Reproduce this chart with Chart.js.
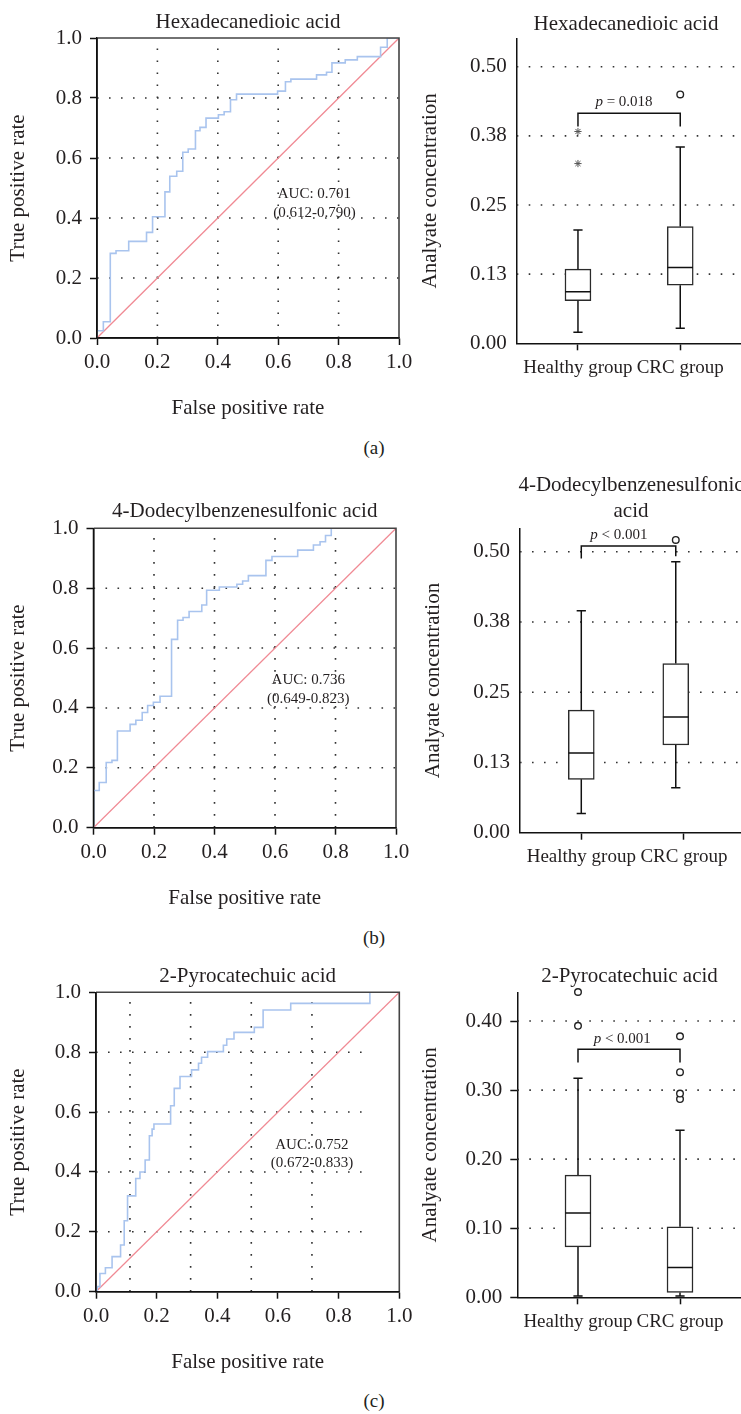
<!DOCTYPE html>
<html><head><meta charset="utf-8">
<script src="https://cdn.jsdelivr.net/npm/chart.js@4.4.0/dist/chart.umd.min.js"></script>
<style>
html,body{margin:0;padding:0;background:#fff;overflow:hidden;}
#wrap{position:relative;width:741px;height:1414px;overflow:hidden;background:#fff;}
canvas{position:absolute;}
.lbl{position:absolute;font-family:"Liberation Serif",serif;font-size:19px;color:#231f20;transform:translate(-50%,-50%);white-space:nowrap;}
</style></head><body><div id="wrap">
<div class="lbl" style="left:374px;top:448px">(a)</div>
<div class="lbl" style="left:374px;top:938px">(b)</div>
<div class="lbl" style="left:374px;top:1401px">(c)</div>
</div>
<script>
// ---------------- DATA ----------------
const rocTicks = [0, 0.2, 0.4, 0.6, 0.8, 1.0];
const rocGrid = [0.2, 0.4, 0.6, 0.8];
const rocGridCx = [0.112, 0.312, 0.512, 0.712];
const groups = ['Healthy group', 'CRC group'];
const concTicksAB = [0, 0.125, 0.25, 0.375, 0.5];
const concTicksC = [0, 0.1, 0.2, 0.3, 0.4];

const titleA = 'Hexadecanedioic acid';
const titleB = '4-Dodecylbenzenesulfonic acid';
const titleBBox = ['4-Dodecylbenzenesulfonic', 'acid'];
const titleC = '2-Pyrocatechuic acid';

// ROC (a)
const rocA_fpr = [0, 0, 0.021, 0.044, 0.063, 0.105, 0.164, 0.184, 0.225, 0.241, 0.264, 0.284, 0.302, 0.326, 0.341, 0.361, 0.402, 0.421, 0.442, 0.462, 0.598, 0.624, 0.642, 0.727, 0.760, 0.778, 0.822, 0.862, 0.939, 0.961, 1.0];
const rocA_tpr = [0, 0.024, 0.054, 0.282, 0.291, 0.322, 0.352, 0.404, 0.487, 0.539, 0.556, 0.619, 0.630, 0.691, 0.702, 0.733, 0.744, 0.754, 0.794, 0.813, 0.823, 0.854, 0.863, 0.877, 0.886, 0.917, 0.927, 0.938, 0.969, 1.0, 1.0];
const aucA = ['AUC: 0.701', '(0.612-0.790)'];
// ROC (b)
const rocB_fpr = [0, 0, 0.019, 0.042, 0.061, 0.079, 0.121, 0.140, 0.161, 0.179, 0.198, 0.220, 0.258, 0.278, 0.296, 0.316, 0.358, 0.374, 0.416, 0.474, 0.493, 0.512, 0.570, 0.590, 0.675, 0.727, 0.749, 0.767, 0.786, 1.0];
const rocB_tpr = [0, 0.124, 0.151, 0.218, 0.225, 0.323, 0.345, 0.359, 0.385, 0.408, 0.419, 0.439, 0.629, 0.693, 0.702, 0.722, 0.744, 0.793, 0.804, 0.813, 0.824, 0.842, 0.893, 0.906, 0.927, 0.944, 0.955, 0.976, 1.0, 1.0];
const aucB = ['AUC: 0.736', '(0.649-0.823)'];
// ROC (c)
const rocC_fpr = [0, 0.004, 0.013, 0.031, 0.053, 0.081, 0.093, 0.104, 0.131, 0.145, 0.162, 0.176, 0.185, 0.191, 0.246, 0.258, 0.277, 0.315, 0.338, 0.348, 0.368, 0.420, 0.431, 0.455, 0.522, 0.551, 0.642, 0.903, 1.0];
const rocC_tpr = [0, 0.017, 0.061, 0.080, 0.117, 0.156, 0.237, 0.320, 0.378, 0.400, 0.440, 0.521, 0.543, 0.560, 0.621, 0.679, 0.719, 0.741, 0.763, 0.783, 0.802, 0.823, 0.844, 0.866, 0.883, 0.941, 0.963, 1.0, 1.0];
const aucC = ['AUC: 0.752', '(0.672-0.833)'];

// Box plots: [min, Q1, median, Q3, max]
const boxA_healthy = [0.020, 0.077, 0.093, 0.134, 0.205];
const boxA_crc     = [0.027, 0.105, 0.137, 0.211, 0.355];
const extA_healthy = [0.325, 0.383];
const outA_crc     = [0.450];
const bracketA     = [0.392, 0.416, 0.392];
const pA           = '= 0.018';

const boxB_healthy = [0.034, 0.095, 0.142, 0.218, 0.395];
const boxB_crc     = [0.080, 0.156, 0.206, 0.301, 0.482];
const outB_crc     = [0.521];
const bracketB     = [0.488, 0.510, 0.492];
const pB           = '< 0.001';

const boxC_healthy = [0.002, 0.073, 0.122, 0.177, 0.317];
const boxC_crc     = [0.002, 0.007, 0.043, 0.102, 0.242];
const outC_healthy = [0.393, 0.442];
const outC_crc     = [0.287, 0.295, 0.326, 0.378];
const bracketC     = [0.340, 0.359, 0.340];
const pC           = '< 0.001';

// ---------------- RENDERING ----------------
const TXT = '#231f20';
const FAM = '"Liberation Serif", "Times New Roman", serif';
Chart.defaults.font.family = FAM;
Chart.defaults.color = TXT;

const decoCfg = {};
const deco = {
  id: 'deco',
  beforeDatasetsDraw(chart) {
    const c = decoCfg[chart.canvas.id]; if (!c) return;
    const {ctx, chartArea: a, scales: {x, y}} = chart;
    ctx.save();
    ctx.strokeStyle = '#333'; ctx.lineWidth = 1.6; ctx.setLineDash([1.6, 10.4]);
    (c.vx || []).forEach(v => {
      const px = x.getPixelForValue(v);
      ctx.beginPath(); ctx.moveTo(px, y.getPixelForValue(y.min)); ctx.lineTo(px, a.top); ctx.stroke();
    });
    (c.hy || []).forEach(v => {
      const py = y.getPixelForValue(v);
      const x0 = x.getPixelForValue(x.min);
      const x1 = c.hx1 != null ? x.getPixelForValue(c.hx1) : a.right;
      ctx.beginPath(); ctx.moveTo(x0, py); ctx.lineTo(x1, py); ctx.stroke();
    });
    ctx.restore();
  },
  afterDatasetsDraw(chart) {
    const c = decoCfg[chart.canvas.id]; if (!c) return;
    const {ctx, chartArea: a, scales: {x, y}} = chart;
    ctx.save();
    if (c.frame) {
      ctx.lineWidth = 1.6; ctx.strokeStyle = '#444';
      ctx.beginPath(); ctx.moveTo(a.left, a.top); ctx.lineTo(a.right, a.top); ctx.lineTo(a.right, a.bottom); ctx.stroke();
      ctx.strokeStyle = '#111'; ctx.lineWidth = 1.5;
      ctx.beginPath(); ctx.moveTo(a.left, a.top); ctx.lineTo(a.left, a.bottom); ctx.lineTo(a.right, a.bottom); ctx.stroke();
    }
    ctx.fillStyle = TXT; ctx.textBaseline = 'middle';
    (c.texts || []).forEach(t => {
      ctx.font = '15px ' + FAM; ctx.textAlign = 'center';
      ctx.fillText(t.s, x.getPixelForValue(t.x), y.getPixelForValue(t.y));
    });
    if (c.p) {
      const fi = 'italic 15px ' + FAM, fr = '15px ' + FAM;
      ctx.font = fi; const w1 = ctx.measureText('p').width;
      ctx.font = fr; const w2 = ctx.measureText(' ' + c.p.s).width;
      const cx = x.getPixelForValue(c.p.x), cy = y.getPixelForValue(c.p.y);
      const sx = cx - (w1 + w2) / 2;
      ctx.textAlign = 'left';
      ctx.font = fi; ctx.fillText('p', sx, cy);
      ctx.font = fr; ctx.fillText(' ' + c.p.s, sx + w1, cy);
    }
    ctx.restore();
  }
};

function mk(id, left, top, w, h) {
  const c = document.createElement('canvas');
  c.id = id; c.width = w; c.height = h;
  c.style.left = left + 'px'; c.style.top = top + 'px';
  c.style.width = w + 'px'; c.style.height = h + 'px';
  document.getElementById('wrap').appendChild(c);
  return c;
}

const F21 = {size: 21, lineHeight: 1.2, weight: 'normal'};

function rocChart(id, g, fpr, tpr, title, auc, aucPos, vGrid, hEnd) {
  const W = Math.round(g.R + 21), H = Math.round(g.B - g.T + 83);
  const cv = mk(id, 0, g.T, W, H);
  const xh = H - (g.B - g.T);
  const tTop = g.tc - g.T - 12.6;
  const tBot = (g.top - g.T) - tTop - 25.2;
  decoCfg[id] = {
    vx: vGrid, hy: rocGrid, hx1: hEnd, frame: true,
    texts: [{s: auc[0], x: aucPos[0], y: aucPos[1]}, {s: auc[1], x: aucPos[0], y: aucPos[2]}]
  };
  const pts = fpr.map((v, i) => ({x: v, y: tpr[i]}));
  new Chart(cv, {
    type: 'line',
    data: {datasets: [
      {data: pts, borderColor: '#a9c4ee', borderWidth: 1.6, stepped: 'before', pointRadius: 0, fill: false, order: 1},
      {data: [{x: 0, y: 0}, {x: 1, y: 1}], borderColor: '#f08a94', borderWidth: 1.3, pointRadius: 0, fill: false, order: 2}
    ]},
    options: {
      responsive: false, animation: false, events: [],
      layout: {padding: {left: 0, right: W - g.R, top: 0, bottom: 0}},
      plugins: {
        legend: {display: false}, tooltip: {enabled: false},
        title: {display: true, text: title, fullSize: false, font: F21, color: TXT, padding: {top: tTop, bottom: tBot}}
      },
      scales: {
        x: {
          type: 'linear', min: 0, max: 1,
          afterBuildTicks: s => { s.ticks = rocTicks.map(v => ({value: v})); },
          afterFit: s => { s.height = xh; },
          ticks: {callback: v => v.toFixed(1), font: F21, color: TXT, padding: 5, maxRotation: 0, autoSkip: false},
          grid: {drawOnChartArea: false, drawTicks: true, tickLength: 7, tickColor: '#111', tickWidth: 1.5},
          border: {display: true, color: '#111', width: 1.5},
          title: {display: true, text: 'False positive rate', font: F21, color: TXT, padding: {top: 0, bottom: 0}}
        },
        y: {
          type: 'linear', min: 0, max: 1,
          afterBuildTicks: s => { s.ticks = rocTicks.map(v => ({value: v})); },
          afterFit: s => { s.width = g.L; },
          ticks: {callback: v => v.toFixed(1), font: F21, color: TXT, padding: 8, autoSkip: false},
          grid: {drawOnChartArea: false, drawTicks: true, tickLength: 7, tickColor: '#111', tickWidth: 1.5},
          border: {display: true, color: '#111', width: 1.5},
          title: {display: true, text: 'True positive rate', font: F21, color: TXT, padding: {top: 6, bottom: 0}}
        }
      }
    },
    plugins: [deco]
  });
}

function boxChart(id, g, stats, outs, exts, bracket, pText, pPos, yTicks, yTickMarks) {
  const W = g.W, H = Math.round(g.B - g.T + 50);
  const cv = mk(id, 410, g.T, W, H);
  const yW = g.axisL - 410;
  const xh = H - (g.B - g.T);
  const nLines = Array.isArray(g.title) ? g.title.length : 1;
  const lh = g.lh || 1.2;
  const lhp = 21 * lh;
  const tTop = g.tc - g.T - lhp / 2;
  const tBot = (g.top - g.T) - tTop - lhp * nLines;
  const xmin = 1 - (g.h0 - g.axisL) / g.pxu;
  const xmax = xmin + (W - yW) / g.pxu;
  const gx = g.gx;
  decoCfg[id] = {hy: yTicks.slice(1), p: {s: pText, x: pPos[0], y: pPos[1]}};

  const cap = 0.045, half = 0.125;
  const GAP = {x: null, y: null};
  const lines = [];
  stats.forEach((s, i) => {
    const c = gx[i];
    lines.push({x: c, y: s[0]}, {x: c, y: s[1]}, GAP,
               {x: c, y: s[3]}, {x: c, y: s[4]}, GAP,
               {x: c - cap, y: s[0]}, {x: c + cap, y: s[0]}, GAP,
               {x: c - cap, y: s[4]}, {x: c + cap, y: s[4]}, GAP,
               {x: c - half, y: s[2]}, {x: c + half, y: s[2]}, GAP);
  });
  const circles = [], stars = [];
  outs.forEach((arr, i) => arr.forEach(v => circles.push({x: gx[i], y: v})));
  exts.forEach((arr, i) => arr.forEach(v => stars.push({x: gx[i], y: v})));
  const br = [{x: gx[0], y: bracket[0]}, {x: gx[0], y: bracket[1]}, {x: gx[1], y: bracket[1]}, {x: gx[1], y: bracket[2]}];

  new Chart(cv, {
    type: 'line',
    data: {datasets: [
      {type: 'bar', data: stats.map((s, i) => ({x: gx[i], y: [s[1], s[3]]})), backgroundColor: '#fff',
       borderColor: '#2a2a2a', borderWidth: 1.5, borderSkipped: false, barThickness: 26, order: 5},
      {data: lines, borderColor: '#111', borderWidth: 1.5, pointRadius: 0, spanGaps: false, fill: false, order: 2},
      {data: br, borderColor: '#111', borderWidth: 1.5, pointRadius: 0, fill: false, order: 3},
      {data: circles, showLine: false, pointStyle: 'circle', pointRadius: 3.3, pointBorderWidth: 1.4,
       pointBorderColor: '#222', pointBackgroundColor: '#fff', clip: false, order: 1},
      {data: stars, showLine: false, pointStyle: 'star', pointRadius: 3.6, pointBorderWidth: 1,
       pointBorderColor: '#555', pointBackgroundColor: '#555', clip: false, order: 1}
    ]},
    options: {
      responsive: false, animation: false, events: [],
      layout: {padding: 0},
      plugins: {
        legend: {display: false}, tooltip: {enabled: false},
        title: {display: true, text: g.title, fullSize: true, font: {size: 21, lineHeight: lh, weight: 'normal'}, color: TXT, padding: {top: tTop, bottom: tBot}}
      },
      scales: {
        x: {
          type: 'linear', min: xmin, max: xmax, offset: false,
          afterBuildTicks: s => { s.ticks = groups.map((_, i) => ({value: i + 1})); },
          afterFit: s => { s.height = xh; },
          ticks: {callback: (v, i) => groups[i], font: {size: 19, weight: 'normal'}, color: TXT, padding: 6, maxRotation: 0, minRotation: 0, autoSkip: false},
          grid: {offset: false, drawOnChartArea: false, drawTicks: true, tickLength: 7, tickColor: '#111', tickWidth: 1.5},
          border: {display: true, color: '#111', width: 1.5}
        },
        y: {
          type: 'linear', min: 0, max: g.ymax,
          afterBuildTicks: s => { s.ticks = yTicks.map(v => ({value: v})); },
          afterFit: s => { s.width = yW; },
          ticks: {callback: v => v.toFixed(2), font: F21, color: TXT, padding: yTickMarks ? 8 : 10, autoSkip: false},
          grid: {drawOnChartArea: false, drawTicks: !!yTickMarks, tickLength: 7, tickColor: '#111', tickWidth: 1.5},
          border: {display: true, color: '#111', width: 1.5},
          title: {display: true, text: 'Analyate concentration', font: F21, color: TXT, padding: {top: g.ytp, bottom: 0}}
        }
      }
    },
    plugins: [deco]
  });
}

// ROC charts
rocChart('rocA', {T: 0, L: 97, R: 399, top: 38, B: 338, tc: 22.7}, rocA_fpr, rocA_tpr, titleA, aucA, [0.72, 0.48, 0.416], rocGrid, null);
rocChart('rocB', {T: 470, L: 93.5, R: 396, top: 528.3, B: 827.7, tc: 511.7}, rocB_fpr, rocB_tpr, titleB, aucB, [0.71, 0.493, 0.43], rocGrid, null);
rocChart('rocC', {T: 940, L: 96, R: 399.3, top: 992.3, B: 1291.7, tc: 976.7}, rocC_fpr, rocC_tpr, titleC, aucC, [0.712, 0.49, 0.429], rocGridCx, 0.907);

// Box plots
boxChart('boxA', {T: 0, W: 432, axisL: 516.7, top: 38.3, B: 343.3, tc: 24, title: titleA, ymax: 0.5515, h0: 579, pxu: 104, gx: [1, 2], ytp: 7.4},
  [boxA_healthy, boxA_crc], [[], outA_crc], [extA_healthy, []], bracketA, pA, [1.45, 0.437], concTicksAB, false);
boxChart('boxB', {T: 470, W: 442, axisL: 520, top: 528.3, B: 832.7, tc: 485, lh: 1.27, title: titleBBox, ymax: 0.5416, h0: 582.3, pxu: 104.4, gx: [1, 1.92], ytp: 10.7},
  [boxB_healthy, boxB_crc], [[], outB_crc], [[], []], bracketB, pB, [1.366, 0.53], concTicksAB, false);
boxChart('boxC', {T: 940, W: 439, axisL: 517.3, top: 992.3, B: 1297.3, tc: 976.7, title: titleC, ymax: 0.4416, h0: 579, pxu: 103.7, gx: [1, 2], ytp: 7.4},
  [boxC_healthy, boxC_crc], [outC_healthy, outC_crc], [[], []], bracketC, pC, [1.434, 0.3735], concTicksC, true);
</script>
</body></html>
